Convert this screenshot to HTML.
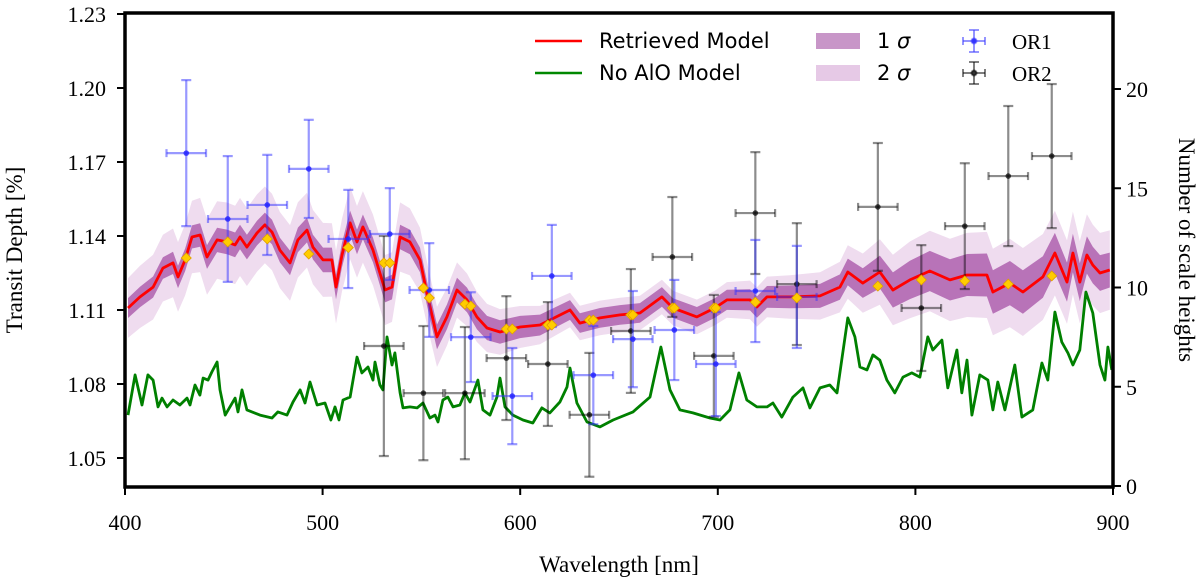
<!DOCTYPE html>
<html><head><meta charset="utf-8"><style>
html,body{margin:0;padding:0;background:#fff;}
svg{display:block;}
.tk{font-family:"Liberation Serif",serif;font-size:22px;fill:#000;}
.ttl{font-family:"Liberation Serif",serif;font-size:23px;fill:#000;}
.lg{font-family:"DejaVu Sans","Liberation Sans",sans-serif;font-size:21px;fill:#000;}
.lgs{font-family:"Liberation Serif",serif;font-size:21px;fill:#000;}
</style></head><body>
<svg id="chart" width="1200" height="585" viewBox="0 0 1200 585">
<g id="bands"></g>
<g id="lines"></g>
<g id="errs"></g>
<g id="diam"></g>
<rect x="125" y="13" width="988" height="474" fill="none" stroke="#000" stroke-width="3.5"/>
<g id="axes"></g>
<text class="ttl" transform="translate(22,250) rotate(-90)" text-anchor="middle">Transit Depth [%]</text>
<text class="ttl" x="619" y="572" text-anchor="middle">Wavelength [nm]</text>
<text class="ttl" transform="translate(1179,250) rotate(90)" text-anchor="middle">Number of scale heights</text>
<g>
<line x1="535" y1="41" x2="582" y2="41" stroke="#f00" stroke-width="2.5"/>
<text class="lg" x="599" y="48">Retrieved Model</text>
<line x1="535" y1="73" x2="582" y2="73" stroke="#080" stroke-width="2.5"/>
<text class="lg" x="599" y="80">No AlO Model</text>
<rect x="816" y="33" width="44" height="16" fill="#c896c8"/>
<text class="lg" x="877" y="48">1 <tspan font-style="italic">σ</tspan></text>
<rect x="816" y="65" width="44" height="16" fill="#e6c9e6"/>
<text class="lg" x="877" y="80">2 <tspan font-style="italic">σ</tspan></text>
<g stroke="rgba(60,60,255,0.55)" stroke-width="2"><line x1="963" y1="41" x2="985" y2="41"/><line x1="974" y1="30" x2="974" y2="52"/><line x1="969" y1="30" x2="979" y2="30"/><line x1="969" y1="52" x2="979" y2="52"/><line x1="963" y1="37" x2="963" y2="45"/><line x1="985" y1="37" x2="985" y2="45"/><circle cx="974" cy="41" r="2.5" fill="#33f"/></g>
<text class="lgs" x="1012" y="49">OR1</text>
<g stroke="rgba(0,0,0,0.5)" stroke-width="2"><line x1="963" y1="73" x2="985" y2="73"/><line x1="974" y1="62" x2="974" y2="84"/><line x1="969" y1="62" x2="979" y2="62"/><line x1="969" y1="84" x2="979" y2="84"/><line x1="963" y1="69" x2="963" y2="77"/><line x1="985" y1="69" x2="985" y2="77"/><circle cx="974" cy="73" r="2.5" fill="#333"/></g>
<text class="lgs" x="1012" y="81">OR2</text>
</g>
</svg>
<script>
const xTicks=[400,500,600,700,800,900];
const yTicks=[1.05,1.08,1.11,1.14,1.17,1.20,1.23];
const yTickLabels=["1.05","1.08","1.11","1.14","1.17","1.20","1.23"];
const rTicks=[0,5,10,15,20];
const modelW=[401.5,407.6,414.2,419.2,424.3,426.8,430.4,433.9,438.0,441.5,446.6,451.6,455.7,458.2,461.7,466.8,470.8,474.4,478.4,483.5,487.5,492.1,495.1,500.2,504.7,506.8,509.8,513.9,517.4,520.4,525.5,529.0,531.6,535.1,539.2,544.2,549.3,552.8,557.9,562.9,568.0,573.1,578.1,583.2,589.8,599.9,610.0,625.2,630.2,640.4,650.5,660.6,671.7,677.3,689.4,698.5,704.6,716.3,719.8,724.9,736.5,751.7,761.8,765.8,773.4,782.0,788.6,797.2,807.3,817.5,826.1,836.2,839.2,847.8,854.4,864.5,870.6,876.7,879.7,883.2,886.8,889.8,893.4,898.4];
const modelD=[1.1108,1.1153,1.1193,1.1270,1.1291,1.1234,1.1303,1.1396,1.1404,1.1315,1.1384,1.1376,1.1364,1.1396,1.1355,1.1412,1.1445,1.1416,1.1343,1.1291,1.1384,1.1424,1.1355,1.1303,1.1303,1.1193,1.1323,1.1453,1.1376,1.1437,1.1343,1.1250,1.1181,1.1193,1.1396,1.1376,1.1303,1.1169,1.0991,1.1072,1.1181,1.1141,1.1072,1.1027,1.1011,1.1031,1.1039,1.1100,1.1047,1.1068,1.1080,1.1088,1.1153,1.1108,1.1072,1.1108,1.1141,1.1141,1.1112,1.1153,1.1153,1.1157,1.1193,1.1254,1.1209,1.1254,1.1181,1.1222,1.1258,1.1222,1.1242,1.1242,1.1173,1.1209,1.1173,1.1234,1.1331,1.1213,1.1331,1.1213,1.1323,1.1282,1.1250,1.1262];
const sigW=[400,450,500,540,580,620,700,760,800,850,900];
const sig1=[0.004,0.005,0.005,0.005,0.005,0.004,0.004,0.005,0.008,0.009,0.007];
const sig2=[0.012,0.016,0.015,0.014,0.010,0.007,0.007,0.010,0.016,0.018,0.016];
const noAloW=[401.5,405.1,408.6,411.6,414.2,416.7,418.7,421.3,424.3,427.8,431.4,432.9,435.4,437.9,439.5,442,444,446.6,448.1,450.7,455.7,457.2,459.2,461.7,468.3,474.4,477.4,482,485,488.6,491.1,493.6,497.2,501.2,504.2,506.3,508.3,510.3,513.9,517.4,519.9,523,525.5,526.5,529,530.5,532.6,535.1,536.6,539.2,540.7,544.2,547.8,550.8,554.3,556.9,558.4,560.9,563.4,566,569.5,572,574.6,578.6,581.1,584.7,588.2,589.8,592.3,596.3,601.4,606.4,611,615,620.1,623.7,625.2,628.7,633.8,640.4,647,657.1,665.7,671.2,675.8,680.8,687.4,696,701.1,706.1,710.7,714.7,719.8,724.9,727.9,732.4,738,743.1,746.6,751.7,756.7,760.3,765.8,769.4,771.9,775.5,778.5,782,785.6,789.6,793.7,798.2,802.3,806.3,808.8,813.4,816.4,821,823.5,826.1,828.6,832.6,836.7,839.2,841.7,845.3,850.3,853.9,859.4,864,867,870.6,874.1,877.2,879.7,883.2,886.3,889.8,893.4,895.9,897.4,899.4];
const noAloD=[1.0674,1.0837,1.0715,1.0837,1.0816,1.0707,1.0743,1.0707,1.0735,1.0715,1.0743,1.0715,1.0796,1.0755,1.0824,1.0816,1.0849,1.0889,1.0776,1.0674,1.0743,1.0687,1.0776,1.0695,1.0674,1.0662,1.0687,1.0674,1.0727,1.0776,1.0723,1.0808,1.0715,1.0723,1.0654,1.0707,1.0654,1.0735,1.0747,1.0909,1.0845,1.0869,1.0816,1.0889,1.0796,1.0776,1.0991,1.0877,1.0926,1.0764,1.0703,1.0707,1.0703,1.0723,1.0662,1.0674,1.0646,1.0735,1.0747,1.0707,1.0715,1.0764,1.0727,1.0816,1.0695,1.0674,1.0747,1.0824,1.0707,1.0674,1.0654,1.0642,1.0703,1.0683,1.0727,1.0788,1.0865,1.0723,1.0646,1.0626,1.0654,1.0687,1.0747,1.0950,1.0776,1.0695,1.0683,1.0662,1.0654,1.0695,1.0845,1.0735,1.0707,1.0707,1.0723,1.0666,1.0747,1.0784,1.0703,1.0784,1.0796,1.0764,1.1068,1.0991,1.0869,1.0857,1.0918,1.0897,1.0816,1.0764,1.0828,1.0845,1.0828,1.0991,1.0938,1.0978,1.0784,1.0938,1.0764,1.0897,1.0674,1.0837,1.0816,1.0695,1.0808,1.0695,1.0877,1.0666,1.0695,1.0885,1.0816,1.1092,1.0970,1.0926,1.0877,1.0938,1.1173,1.1088,1.0877,1.0816,1.0950,1.0857];
const or1W=[431,452,472,493,513,534,554,575,596,616,637,657,678,699,719,740];
const or1D=[1.1736,1.1469,1.1526,1.1672,1.1388,1.1408,1.1181,1.0990,1.0751,1.1238,1.0836,1.0982,1.1019,1.0881,1.1177,1.1153];
const or1E=[0.0296,0.0255,0.0203,0.0199,0.0199,0.0186,0.0190,0.0182,0.0195,0.0207,0.0199,0.0195,0.0203,0.0211,0.0207,0.0207];
const or2W=[531,551,572,593,614,635,656,677,698,719,740,781,803,825,847,869];
const or2D=[1.0954,1.0763,1.0763,1.0905,1.0881,1.0675,1.1015,1.1315,1.0914,1.1493,1.1205,1.1518,1.1108,1.1440,1.1643,1.1724];
const or2E=[0.0446,0.0272,0.0268,0.0251,0.0251,0.0251,0.0251,0.0243,0.0247,0.0247,0.0247,0.0259,0.0255,0.0255,0.0284,0.0292];
const binW=[431,452,472,493,513,531,534,551,554,572,575,593,596,614,616,635,637,656,657,677,678,698,699,719,740,781,803,825,847,869];
const binD=[1.1311,1.1376,1.1388,1.1327,1.1353,1.1291,1.1291,1.1189,1.1149,1.1124,1.1116,1.1023,1.1023,1.1039,1.1039,1.1059,1.1059,1.1080,1.1080,1.1108,1.1108,1.1108,1.1108,1.1132,1.1149,1.1197,1.1222,1.1218,1.1205,1.1238];
const XERR=10;

const NS="http://www.w3.org/2000/svg";
function X(w){return 125+(w-400)*1.976;}
function Y(d){return 14+(1.23-d)/0.03*74;}
function YR(s){return 486-s*19.85;}
function mk(tag,attrs,parent){const e=document.createElementNS(NS,tag);for(const k in attrs)e.setAttribute(k,attrs[k]);parent.appendChild(e);return e;}
function interp(xs,ys,x){if(x<=xs[0])return ys[0];for(let i=1;i<xs.length;i++){if(x<=xs[i]){const t=(x-xs[i-1])/(xs[i]-xs[i-1]);return ys[i-1]+t*(ys[i]-ys[i-1]);}}return ys[ys.length-1];}

const bands=document.getElementById('bands');
function band(sig,fill,name){
  let up=[],dn=[];
  for(let i=0;i<modelW.length;i++){const s=interp(sigW,sig,modelW[i]);up.push(X(modelW[i]).toFixed(1)+','+Y(modelD[i]+s).toFixed(1));dn.unshift(X(modelW[i]).toFixed(1)+','+Y(modelD[i]-s).toFixed(1));}
  const p=mk('polygon',{points:up.concat(dn).join(' '),fill:fill},bands);
  
  
}
band(sig2,'#efdcef','band-2sigma');
band(sig1,'#b873b8','band-1sigma');

const lines=document.getElementById('lines');
const g=mk('polyline',{points:noAloW.map((w,i)=>X(w).toFixed(1)+','+Y(noAloD[i]).toFixed(1)).join(' '),fill:'none',stroke:'#008000','stroke-width':2.8,'stroke-linejoin':'round'},lines);



const errs=document.getElementById('errs');
function ebar(ws,ds,es,col,dot,name){
  for(let i=0;i<ws.length;i++){
    const gg=mk('g',{stroke:col,'stroke-width':2.2},errs);
    
    
    const x=X(ws[i]),y=Y(ds[i]),x1=X(ws[i]-XERR),x2=X(ws[i]+XERR),y1=Y(ds[i]+es[i]),y2=Y(ds[i]-es[i]);
    mk('line',{x1:x1,y1:y,x2:x2,y2:y},gg);
    mk('line',{x1:x,y1:y1,x2:x,y2:y2},gg);
    mk('line',{x1:x-5,y1:y1,x2:x+5,y2:y1},gg);
    mk('line',{x1:x-5,y1:y2,x2:x+5,y2:y2},gg);
    mk('line',{x1:x1,y1:y-4,x2:x1,y2:y+4},gg);
    mk('line',{x1:x2,y1:y-4,x2:x2,y2:y+4},gg);
    mk('circle',{cx:x,cy:y,r:2.8,fill:dot,stroke:'none'},gg);
  }
}
ebar(or2W,or2D,or2E,'rgba(0,0,0,0.45)','rgba(0,0,0,0.7)','or2-point');
ebar(or1W,or1D,or1E,'rgba(50,50,255,0.5)','rgba(30,30,255,0.8)','or1-point');

const r=mk('polyline',{points:modelW.map((w,i)=>X(w).toFixed(1)+','+Y(modelD[i]).toFixed(1)).join(' '),fill:'none',stroke:'#f00','stroke-width':2.8,'stroke-linejoin':'round'},lines);



const diam=document.getElementById('diam');
for(let i=0;i<binW.length;i++){
  const x=X(binW[i]),y=Y(binD[i]);
  const d=mk('polygon',{points:`${x},${y-5} ${x+5},${y} ${x},${y+5} ${x-5},${y}`,fill:'#ffcc00',stroke:'#e0a000','stroke-width':0.8},diam);
  
  
}

const axes=document.getElementById('axes');
xTicks.forEach(t=>{
  const x=X(t);
  const l=mk('line',{x1:x,y1:487,x2:x,y2:495,stroke:'#000','stroke-width':2},axes);
  
  
  const tx=mk('text',{x:x,y:530,'text-anchor':'middle',class:'tk'},axes);tx.textContent=t;
  
  
});
yTicks.forEach((t,i)=>{
  const y=Y(t);
  const l=mk('line',{x1:117,y1:y,x2:125,y2:y,stroke:'#000','stroke-width':2},axes);
  
  
  const tx=mk('text',{x:106,y:y+8,'text-anchor':'end',class:'tk'},axes);tx.textContent=yTickLabels[i];
  
  
});
rTicks.forEach(t=>{
  const y=YR(t);
  const l=mk('line',{x1:1113,y1:y,x2:1121,y2:y,stroke:'#000','stroke-width':2},axes);
  
  
  const tx=mk('text',{x:1126,y:y+8,'text-anchor':'start',class:'tk'},axes);tx.textContent=t;
  
  
});
</script>
</body></html>
